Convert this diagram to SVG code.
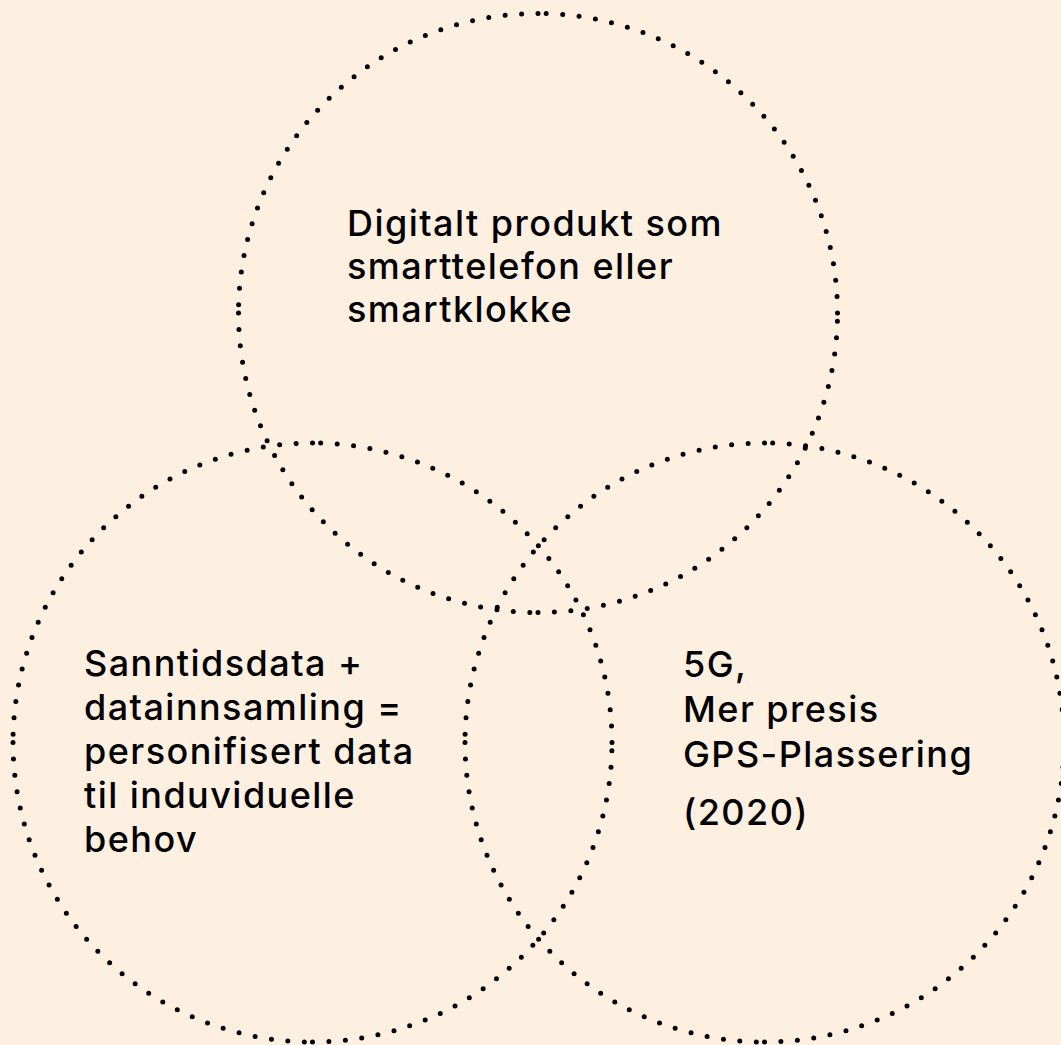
<svg xmlns="http://www.w3.org/2000/svg" xmlns:xlink="http://www.w3.org/1999/xlink" width="1061" height="1045" viewBox="0 0 1061 1045">
  <style>
    .arc { fill: none; stroke: #000; stroke-width: 5; stroke-linecap: round; stroke-dasharray: 0 16.5; }
    .label { font-family: "Inter", "Liberation Sans", sans-serif; font-size: 36px; font-weight: 500; letter-spacing: 1.45px; fill: #000; }
  </style>
  <defs>
    <!-- dotted ring of radius 299.5 built from four quarter arcs, each dotted from its own start -->
    <g id="ring">
      <path class="arc" d="M 299.5 0 A 299.5 299.5 0 0 0 0 -299.5"/>
      <path class="arc" d="M 0 -299.5 A 299.5 299.5 0 0 0 -299.5 0"/>
      <path class="arc" d="M -299.5 0 A 299.5 299.5 0 0 0 0 299.5"/>
      <path class="arc" d="M 0 299.5 A 299.5 299.5 0 0 0 299.5 0"/>
    </g>
  </defs>

  <rect width="1061" height="1045" fill="#FDF0E1"/>

  <g id="device">
    <use xlink:href="#ring" href="#ring" x="538" y="313"/>
    <text class="label">
      <tspan x="347" y="236">Digitalt produkt som</tspan>
      <tspan x="347" y="279">smarttelefon eller</tspan>
      <tspan x="347" y="322">smartklokke</tspan>
    </text>
  </g>

  <g id="data">
    <use xlink:href="#ring" href="#ring" x="312.5" y="742.5"/>
    <text class="label">
      <tspan x="84" y="676">Sanntidsdata +</tspan>
      <tspan x="84" y="720">datainnsamling =</tspan>
      <tspan x="84" y="764">personifisert data</tspan>
      <tspan x="84" y="808">til induviduelle</tspan>
      <tspan x="84" y="852">behov</tspan>
    </text>
  </g>

  <g id="network">
    <use xlink:href="#ring" href="#ring" x="764.5" y="742.5"/>
    <text class="label">
      <tspan x="683" y="677">5G,</tspan>
      <tspan x="683" y="722">Mer presis</tspan>
      <tspan x="683" y="767">GPS-Plassering</tspan>
      <tspan x="683" y="825">(2020)</tspan>
    </text>
  </g>
</svg>
